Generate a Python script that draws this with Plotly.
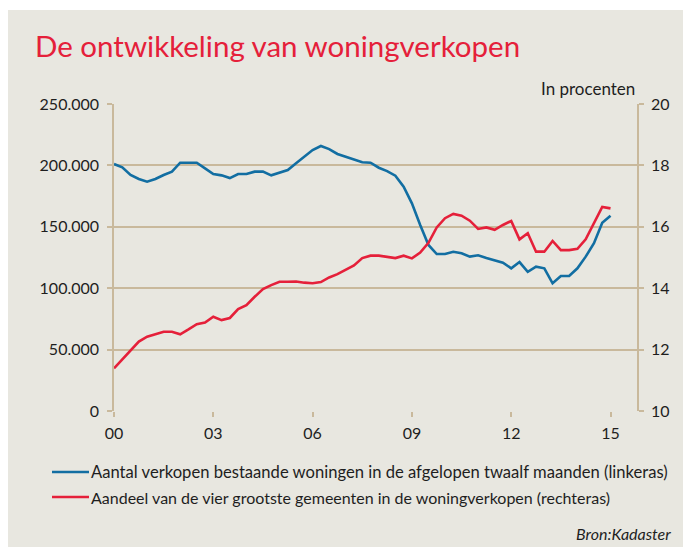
import plotly.graph_objects as go

# kwartalen 2000 t/m 2015
jaren = [
    2000.0, 2000.25, 2000.5, 2000.75, 2001.0, 2001.25, 2001.5, 2001.75,
    2002.0, 2002.25, 2002.5, 2002.75, 2003.0, 2003.25, 2003.5, 2003.75,
    2004.0, 2004.25, 2004.5, 2004.75, 2005.0, 2005.25, 2005.5, 2005.75,
    2006.0, 2006.25, 2006.5, 2006.75, 2007.0, 2007.25, 2007.5, 2007.75,
    2008.0, 2008.25, 2008.5, 2008.75, 2009.0, 2009.25, 2009.5, 2009.75,
    2010.0, 2010.25, 2010.5, 2010.75, 2011.0, 2011.25, 2011.5, 2011.75,
    2012.0, 2012.25, 2012.5, 2012.75, 2013.0, 2013.25, 2013.5, 2013.75,
    2014.0, 2014.25, 2014.5, 2014.75, 2015.0,
]

# aantal verkopen bestaande woningen, afgelopen twaalf maanden (linkeras)
verkopen = [
    201100, 198400, 192200, 188900, 186700, 188900, 192200, 194900,
    202200, 202200, 202200, 197600, 193000, 191900, 189700, 193000,
    193000, 194900, 194900, 191900, 194000, 196200, 201700, 207100,
    212500, 215800, 213300, 209300, 207100, 204400, 202500, 202200,
    198100, 195400, 191600, 182600, 169100, 151500, 135200, 127800,
    127800, 129700, 128400, 125700, 126800, 124600, 123000, 120800,
    116200, 121300, 113400, 117500, 116200, 104000, 109900, 109900,
    116200, 125700, 136600, 153300, 159000,
]

# aandeel van de vier grootste gemeenten, in procenten (rechteras)
aandeel = [
    11.39, 11.68, 11.96, 12.26, 12.42, 12.50, 12.58, 12.58,
    12.50, 12.66, 12.83, 12.88, 13.07, 12.96, 13.03, 13.32,
    13.45, 13.72, 13.97, 14.10, 14.21, 14.21, 14.22, 14.18,
    14.16, 14.20, 14.35, 14.46, 14.59, 14.74, 14.98, 15.06,
    15.06, 15.03, 14.98, 15.06, 14.97, 15.16, 15.48, 15.98,
    16.28, 16.42, 16.36, 16.20, 15.93, 15.98, 15.90, 16.06,
    16.19, 15.59, 15.79, 15.19, 15.19, 15.54, 15.24, 15.24,
    15.28, 15.59, 16.13, 16.65, 16.60,
]

x_ticks = [2000, 2003, 2006, 2009, 2012, 2015]
x_labels = ['00', '03', '06', '09', '12', '15']
links_ticks = [0, 50000, 100000, 150000, 200000, 250000]
links_labels = ['0', '50.000', '100.000', '150.000', '200.000', '250.000']
rechts_ticks = [10, 12, 14, 16, 18, 20]

naam_blauw = 'Aantal verkopen bestaande woningen in de afgelopen twaalf maanden (linkeras)'
naam_rood = 'Aandeel van de vier grootste gemeenten in de woningverkopen (rechteras)'

BLAUW = '#126ea2'
ROOD = '#e5203a'
TAN = '#c9b99c'
ACHTERGROND = '#e8e7e0'
TEKST = '#1e1e1e'
FONT = 'Lato'

W, H = 683, 547
ML, MR, MT, MB = 114, 46, 104, 136
PW, PH = W - ML - MR, H - MT - MB


def px_x(p):
    return (p - ML) / PW


def px_y(p):
    return (H - MB - p) / PH


fig = go.Figure()
fig.add_trace(go.Scatter(x=jaren, y=verkopen, mode='lines', name=naam_blauw,
                         line=dict(color=BLAUW, width=2.6), yaxis='y'))
fig.add_trace(go.Scatter(x=jaren, y=aandeel, mode='lines', name=naam_rood,
                         line=dict(color=ROOD, width=2.6), yaxis='y2'))

fig.update_layout(
    width=W, height=H,
    margin=dict(l=ML, r=MR, t=MT, b=MB),
    paper_bgcolor='white',
    plot_bgcolor='rgba(0,0,0,0)',
    showlegend=False,
    font=dict(family=FONT, size=16, color=TEKST),
    title=dict(text='De ontwikkeling van woningverkopen', x=35 / W, xanchor='left',
               y=1 - 47 / H, yanchor='middle', font=dict(family=FONT, size=29.5, color=ROOD)),
    xaxis=dict(range=[2000, 2015.8], tickvals=x_ticks, ticktext=x_labels,
               showgrid=False, zeroline=False, showline=False,
               ticks='outside', ticklen=5, tickcolor=TAN, tickwidth=1.5,
               ticklabelstandoff=3,
               tickfont=dict(size=16, color=TEKST), fixedrange=True),
    yaxis=dict(range=[0, 250000], tickvals=links_ticks, ticktext=links_labels,
               showgrid=True, gridcolor=TAN, gridwidth=1.5, zeroline=False,
               showline=True, linecolor=TAN, linewidth=1.5,
               ticks='outside', ticklen=5, tickcolor=TAN, tickwidth=1.5,
               ticklabelstandoff=5,
               tickfont=dict(size=16, color=TEKST), fixedrange=True),
    yaxis2=dict(range=[10, 20], tickvals=rechts_ticks, overlaying='y', side='right',
                showgrid=False, zeroline=False, showline=True, linecolor=TAN, linewidth=1.5,
                ticks='outside', ticklen=5, tickcolor=TAN, tickwidth=1.5,
                ticklabelstandoff=4,
                tickfont=dict(size=16, color=TEKST), fixedrange=True),
)

# beige vlak met witte rand links en boven
fig.add_shape(type='rect', xref='paper', yref='paper', layer='below',
              x0=px_x(8), x1=px_x(W + 5), y0=px_y(H + 5), y1=px_y(10),
              fillcolor=ACHTERGROND, line=dict(width=0))

fig.add_annotation(text='In procenten', xref='paper', yref='paper', x=1, y=px_y(88),
                   xanchor='right', yanchor='middle', showarrow=False,
                   font=dict(size=17, color=TEKST))

# legenda met de hand
for naam, kleur, yy, maat in [(naam_blauw, BLAUW, 472, 16.6), (naam_rood, ROOD, 497, 16)]:
    fig.add_shape(type='line', xref='paper', yref='paper',
                  x0=px_x(52), x1=px_x(89), y0=px_y(yy), y1=px_y(yy),
                  line=dict(color=kleur, width=2.6))
    fig.add_annotation(text=naam, xref='paper', yref='paper', x=px_x(89), y=px_y(yy),
                       xanchor='left', yanchor='middle', showarrow=False,
                       font=dict(size=maat, color=TEKST))

fig.add_annotation(text='<i>Bron:Kadaster</i>', xref='paper', yref='paper',
                   x=px_x(673), y=px_y(533), xanchor='right', yanchor='middle',
                   showarrow=False, font=dict(size=16, color=TEKST))

fig.write_html('out.html', config={'displayModeBar': False},
               post_script="document.body.style.margin='0';document.body.style.overflow='hidden';")
